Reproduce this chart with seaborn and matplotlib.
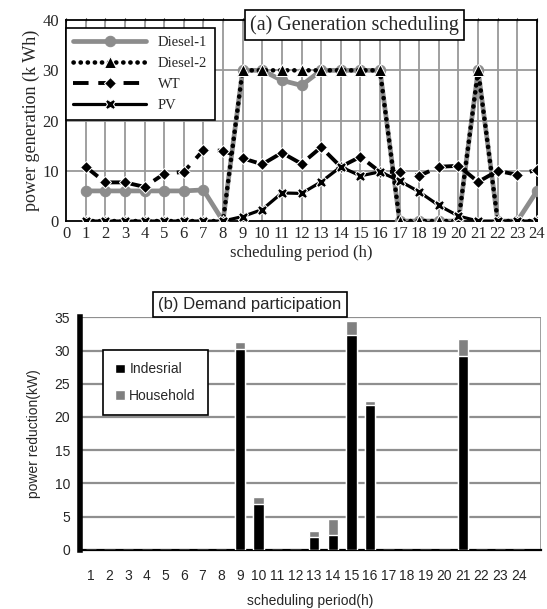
import matplotlib
matplotlib.use("Agg")
import matplotlib.pyplot as plt
from matplotlib.patches import Patch
import pandas as pd
import seaborn as sns

# values
hours = list(range(1, 25))
diesel1 = [6, 6, 6, 6, 6, 6, 6.2, 0, 30, 30, 28, 27, 30, 30, 30, 30, 0, 0, 0, 0, 30, 0, 0, 6]
diesel2 = [0, 0, 0, 0, 0, 0, 0, 0, 30, 30, 30, 30, 30, 30, 30, 30, 0, 0, 0, 0, 30, 0, 0, 0]
wt = [10.8, 7.7, 7.7, 6.8, 9.4, 9.8, 14.1, 14.0, 12.5, 11.3, 13.6, 11.4,
      14.7, 10.8, 12.8, 9.8, 9.8, 9.0, 10.8, 11.0, 7.8, 10.0, 9.2, 10.2]
pv = [0, 0, 0, 0, 0, 0, 0, 0, 0.9, 2.3, 5.6, 5.5, 7.8, 10.8, 9.0, 9.8,
      8.0, 5.8, 3.1, 1.0, 0, 0, 0, 0]
industrial = [0, 0, 0, 0, 0, 0, 0, 0, 30.3, 6.9, 0, 0, 2.0, 2.3, 32.4, 21.8,
              0, 0, 0, 0, 29.2, 0, 0, 0]
household = [0, 0, 0, 0, 0, 0, 0, 0, 1.0, 1.0, 0, 0, 0.8, 2.4, 2.1, 0.6,
             0, 0, 0, 0, 2.5, 0, 0, 0]

sns.set_style("white")
plt.rcParams["font.family"] = ["Liberation Serif", "DejaVu Serif"]

fig = plt.figure(figsize=(5.47, 6.09), dpi=100)

# ---------------- (a) generation scheduling ----------------
ax1 = fig.add_axes([0.1207, 0.637, 0.861, 0.330])
grey = "#999999"

sns.lineplot(x=hours, y=diesel1, ax=ax1, color="#8c8c8c", lw=3.4, marker="o",
             markersize=7.5, markeredgecolor="#8c8c8c", label="Diesel-1", zorder=3)
sns.lineplot(x=hours, y=diesel2, ax=ax1, color="black", lw=3.3, linestyle=(0, (0.05, 1.5)),
             dash_capstyle="round", marker="^", markersize=8.5, label="Diesel-2", zorder=4)
sns.lineplot(x=hours, y=wt, ax=ax1, color="black", lw=2.8, linestyle=(0, (4, 2.5)),
             marker="D", markersize=6, label="WT", zorder=4)
sns.lineplot(x=hours, y=pv, ax=ax1, color="black", lw=2.3, marker="X",
             markersize=7.5, label="PV", zorder=5)

ax1.set_xlim(0, 24)
ax1.set_ylim(0, 40)
ax1.set_xticks(range(0, 25))
ax1.set_yticks([0, 10, 20, 30, 40])
ax1.tick_params(axis="both", labelsize=12, length=3, color="black", pad=2)
ax1.tick_params(axis="x", top=True, direction="inout")
for v in range(1, 24):
    ax1.axvline(v, color=grey, lw=1.3, zorder=1)
for v in [10, 20, 30]:
    ax1.axhline(v, color=grey, lw=1.3, zorder=1)
for s in ax1.spines.values():
    s.set_color("black")
    s.set_linewidth(1.3)
ax1.set_xlabel("scheduling period (h)", fontsize=12, labelpad=2)
ax1.set_ylabel("power generation (k Wh)", fontsize=13, labelpad=2)

leg1 = ax1.legend(loc="upper left", bbox_to_anchor=(0.0, 0.96), borderaxespad=0,
                  fontsize=10.5, handlelength=5, numpoints=1, fancybox=False,
                  framealpha=1, edgecolor="black", labelspacing=0.55, borderpad=0.5)
leg1.get_frame().set_linewidth(1.2)
leg1.set_zorder(10)

ax1.text(0.612, 0.975, "(a) Generation scheduling", transform=ax1.transAxes,
         ha="center", va="center", fontsize=14.5, zorder=11,
         bbox=dict(boxstyle="square,pad=0.25", facecolor="white", edgecolor="black", lw=1.2))

# ---------------- (b) demand participation ----------------
sans = ["Liberation Sans", "DejaVu Sans"]
ax2 = fig.add_axes([0.146, 0.097, 0.843, 0.382])
df = pd.DataFrame({"hour": hours, "industrial": industrial,
                   "total": [a + b for a, b in zip(industrial, household)]})

for v in range(5, 36, 5):
    ax2.axhline(v, color="#8f8f8f", lw=1.6, zorder=0)
sns.barplot(data=df, x="hour", y="total", ax=ax2, native_scale=True, color="#808080",
            width=0.56, saturation=1, zorder=2)
sns.barplot(data=df, x="hour", y="industrial", ax=ax2, native_scale=True, color="black",
            width=0.56, saturation=1, zorder=3)

ax2.set_xlim(0.4, 25.2)
ax2.set_ylim(0, 35)
ax2.set_yticks(range(0, 36, 5))
ax2.set_yticklabels([str(v) for v in range(0, 36, 5)], family=sans, fontsize=10)
ax2.set_xticks([h + 0.5 for h in range(0, 25)])
ax2.set_xticklabels([])
ax2.set_xticks(hours, minor=True)
ax2.set_xticklabels([str(h) for h in hours], minor=True, family=sans, fontsize=10)
ax2.tick_params(axis="x", which="major", length=5, width=1.5, color="black", direction="out")
ax2.tick_params(axis="x", which="minor", length=0, pad=14)
ax2.tick_params(axis="y", length=4, width=1.5, color="black", direction="out", pad=3)
for side in ["top", "right"]:
    ax2.spines[side].set_visible(False)
ax2.spines["left"].set_linewidth(4)
ax2.spines["left"].set_color("black")
ax2.spines["bottom"].set_linewidth(1.6)
ax2.spines["bottom"].set_color("black")
ax2.axvline(25.2, color="#8f8f8f", lw=1.2, zorder=0)

ax2.set_xlabel("scheduling period(h)", family=sans, fontsize=10, labelpad=8)
ax2.set_ylabel("power reduction(kW)", family=sans, fontsize=10, labelpad=10)

handles = [Patch(facecolor="black", label="Indesrial"),
           Patch(facecolor="#808080", label="Household")]
leg2 = ax2.legend(handles=handles, loc="upper left", bbox_to_anchor=(0.05, 0.86),
                  borderaxespad=0, prop={"family": sans, "size": 10}, handlelength=0.7,
                  handleheight=0.7, handletextpad=0.3, fancybox=False, framealpha=1,
                  edgecolor="black", labelspacing=0.9, borderpad=0.9)
leg2.get_frame().set_linewidth(1.2)

ax2.text(0.369, 1.056, "(b) Demand participation", transform=ax2.transAxes,
         ha="center", va="center", fontsize=12, family=sans, zorder=11,
         bbox=dict(boxstyle="square,pad=0.3", facecolor="white", edgecolor="black", lw=1.2))

fig.savefig("out.png", dpi=100)
